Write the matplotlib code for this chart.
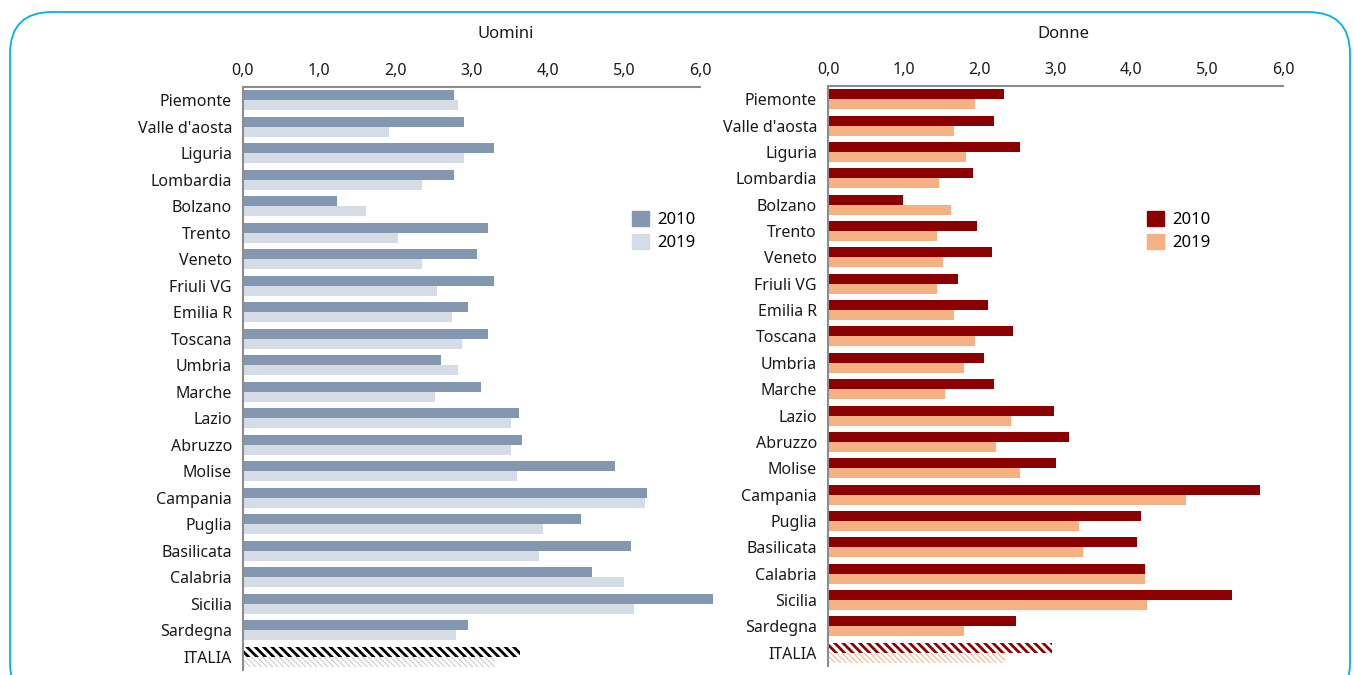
import numpy as np
import matplotlib as mpl
import matplotlib.pyplot as plt
from matplotlib.patches import FancyBboxPatch, Patch

regions = ["Piemonte", "Valle d'aosta", "Liguria", "Lombardia", "Bolzano", "Trento",
           "Veneto", "Friuli VG", "Emilia R", "Toscana", "Umbria", "Marche", "Lazio",
           "Abruzzo", "Molise", "Campania", "Puglia", "Basilicata", "Calabria",
           "Sicilia", "Sardegna", "ITALIA"]

uomini_2010 = [2.77, 2.90, 3.29, 2.77, 1.23, 3.22, 3.07, 3.29, 2.95, 3.22, 2.60, 3.12,
               3.62, 3.66, 4.88, 5.30, 4.44, 5.10, 4.58, 6.17, 2.95, 3.64]
uomini_2019 = [2.82, 1.92, 2.90, 2.35, 1.61, 2.03, 2.35, 2.55, 2.74, 2.87, 2.82, 2.52,
               3.52, 3.52, 3.60, 5.28, 3.94, 3.88, 5.00, 5.13, 2.80, 3.31]
donne_2010 = [2.32, 2.19, 2.53, 1.91, 0.99, 1.97, 2.16, 1.72, 2.11, 2.44, 2.06, 2.19,
              2.98, 3.18, 3.01, 5.70, 4.13, 4.08, 4.18, 5.33, 2.48, 2.96]
donne_2019 = [1.94, 1.66, 1.82, 1.46, 1.62, 1.44, 1.52, 1.44, 1.66, 1.94, 1.79, 1.54,
              2.41, 2.22, 2.53, 4.72, 3.31, 3.36, 4.18, 4.21, 1.79, 2.34]

plt.rcParams['font.family'] = ['Noto Sans', 'DejaVu Sans']

fig = plt.figure(figsize=(13.54, 6.75), dpi=100)

# rounded cyan frame
frame = FancyBboxPatch((0.10, -0.3), 13.40, 6.93,
                       boxstyle="round,pad=0,rounding_size=0.42",
                       transform=fig.dpi_scale_trans, fill=False,
                       edgecolor="#00B0F0", linewidth=1.3, clip_on=False)
fig.patches.append(frame)

n = len(regions)
y = np.arange(n)
h = 0.38


def panel(rect, v10, v19, c10, c19, hc10, hc19, title, title_x, leg_pos):
    ax = fig.add_axes(rect)
    for i in range(n):
        if regions[i] == "ITALIA":
            with mpl.rc_context({'hatch.linewidth': 2.0}):
                ax.barh(y[i] - h / 2, v10[i], height=h, facecolor="white",
                        edgecolor=hc10, hatch="\\\\\\\\", linewidth=0, clip_on=False)
            with mpl.rc_context({'hatch.linewidth': 0.7}):
                ax.barh(y[i] + h / 2, v19[i], height=h, facecolor="white",
                        edgecolor=hc19, hatch="\\\\\\\\\\\\", linewidth=0, clip_on=False)
        else:
            ax.barh(y[i] - h / 2, v10[i], height=h, color=c10, clip_on=False)
            ax.barh(y[i] + h / 2, v19[i], height=h, color=c19, clip_on=False)
    ax.set_xlim(0, 6)
    ax.set_ylim(n - 0.5, -0.5)
    ax.set_yticks(y)
    ax.set_yticklabels(regions, fontsize=11.5, color="#1a1a1a")
    ax.set_xticks(np.arange(0, 7, 1))
    ax.set_xticklabels([f"{v:.1f}".replace(".", ",") for v in range(7)],
                       fontsize=11.5, color="#1a1a1a")
    ax.xaxis.tick_top()
    ax.tick_params(length=0, pad=8)
    ax.tick_params(axis="x", pad=6)
    for s in ["right", "bottom"]:
        ax.spines[s].set_visible(False)
    for s in ["top", "left"]:
        ax.spines[s].set_color("#8c8c8c")
        ax.spines[s].set_linewidth(1.5)
    fig.text(title_x, 1 - 34 / 675, title, ha="center", va="center",
             fontsize=12, color="#1a1a1a")
    handles = [Patch(color=c10, label="2010"), Patch(color=c19, label="2019")]
    fig.legend(handles=handles, loc="upper left", bbox_to_anchor=leg_pos,
               frameon=False, fontsize=12, handlelength=1.0, handleheight=1.0,
               handletextpad=0.5, labelspacing=0.35)
    return ax


panel([243 / 1354, 1 - 670 / 675, 457 / 1354, (670 - 87) / 675],
      uomini_2010, uomini_2019, "#8497B0", "#D6DCE5", "black", "#c8c8c8",
      "Uomini", 506 / 1354, (617 / 1354, 1 - 196 / 675))
panel([828 / 1354, 1 - 666 / 675, 455 / 1354, (666 - 86) / 675],
      donne_2010, donne_2019, "#8B0000", "#F4B183", "#8B0000", "#F4B183",
      "Donne", 1063 / 1354, (1132 / 1354, 1 - 196 / 675))

fig.savefig("out.png", dpi=100)
